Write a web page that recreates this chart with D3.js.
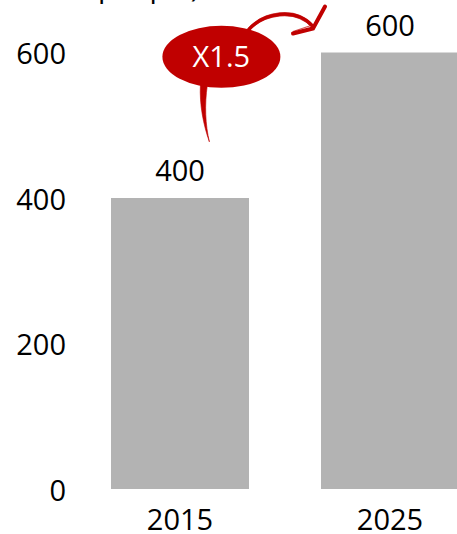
<!DOCTYPE html>
<html>
<head>
<meta charset="utf-8">
<script src="https://cdn.jsdelivr.net/npm/d3@7"></script>
<style>
  body { margin: 0; background: #fff; }
  text { font-family: "Open Sans", "Noto Sans", sans-serif; }
</style>
</head>
<body>
<script>
// chart values
const years = ["2015", "2025"];
const values = [400, 600];
const yTicks = [0, 200, 400, 600];
const growthLabel = "X1.5";
const titleText = "people)";

const width = 457, height = 534;
const fontSize = 29;
const barColor = "#b3b3b3", red = "#c00000";

const svg = d3.select("body").append("svg")
    .attr("width", width)
    .attr("height", height);

// scales
const x = d3.scaleBand(years, [75, 495])
    .paddingInner(0.343)
    .paddingOuter(0.1715);
const y = d3.scaleLinear([0, 600], [489, 52.5]);

// title, cut off at the top of the picture
svg.append("text")
    .attr("x", 98)
    .attr("y", -3)
    .attr("font-size", fontSize)
    .attr("fill", "#000")
    .text(titleText);

// bars
svg.selectAll(".bar")
    .data(values)
    .join("rect")
    .attr("class", "bar")
    .attr("x", (d, i) => x(years[i]))
    .attr("y", d => y(d))
    .attr("width", x.bandwidth())
    .attr("height", d => y(0) - y(d))
    .attr("fill", barColor);

// value labels
svg.selectAll(".value")
    .data(values)
    .join("text")
    .attr("class", "value")
    .attr("x", (d, i) => x(years[i]) + x.bandwidth() / 2)
    .attr("y", d => y(d) - 17)
    .attr("text-anchor", "middle")
    .attr("font-size", fontSize)
    .text(d => d);

// y axis, labels only
const yAxis = svg.append("g")
    .attr("transform", "translate(66,0)")
    .call(d3.axisLeft(y).tickValues(yTicks).tickSize(0).tickPadding(0));
yAxis.select(".domain").remove();
yAxis.selectAll("text")
    .attr("font-size", fontSize)
    .attr("font-family", null)
    .attr("fill", "#000")
    .attr("dy", "0.38em");

// x axis, labels only
const xAxis = svg.append("g")
    .attr("transform", `translate(0,${y(0)})`)
    .call(d3.axisBottom(x).tickSize(0).tickPadding(0));
xAxis.select(".domain").remove();
xAxis.selectAll("text")
    .attr("font-size", fontSize)
    .attr("font-family", null)
    .attr("fill", "#000")
    .attr("dy", null)
    .attr("y", 41);

// growth annotation
const cx = x(years[0]) + x.bandwidth() * 0.8;
const cy = y(594);
const ann = svg.append("g").attr("fill", red).attr("stroke", red);

// curved arrow from the ellipse to the second bar (brush-like strokes)
const arrowEnd = [x(years[1]) - 8, y(633)];
const arcPath = `M${cx + 27},${cy - 27} C${cx + 42},${cy - 44} ${cx + 74},${cy - 50} ${arrowEnd[0]},${arrowEnd[1] - 2}`;
[[0, 3.2, 1], [1.5, 1.2, 0.8], [-1.5, 1.2, 0.7]].forEach(([off, w, o]) => {
  ann.append("path")
      .attr("d", arcPath)
      .attr("transform", `translate(0,${off})`)
      .attr("fill", "none")
      .attr("stroke-width", w)
      .attr("stroke-opacity", o)
      .attr("stroke-linecap", "round");
});
// arrow head
ann.append("path")
    .attr("d", `M${arrowEnd[0] - 20},${arrowEnd[1] + 5} L${arrowEnd[0]},${arrowEnd[1]} L${arrowEnd[0] + 12},${arrowEnd[1] - 22}`)
    .attr("fill", "none")
    .attr("stroke-width", 4)
    .attr("stroke-linejoin", "miter")
    .attr("stroke-linecap", "round");
ann.append("path")
    .attr("d", `M${arrowEnd[0] - 20},${arrowEnd[1] + 3} L${arrowEnd[0] - 2},${arrowEnd[1] - 3}`)
    .attr("fill", "none")
    .attr("stroke-width", 1.2)
    .attr("stroke-opacity", 0.7);

// tail below the ellipse, tapered
const tx = cx - 18, ty = cy + 28;
ann.append("path")
    .attr("d", `M${tx - 3},${ty} L${tx + 4},${ty} C${tx + 1},${ty + 20} ${tx + 2},${ty + 40} ${tx + 6},${ty + 57} C${tx},${ty + 40} ${tx - 4},${ty + 20} ${tx - 3},${ty} Z`)
    .attr("stroke-width", 0.6);

ann.append("ellipse")
    .attr("cx", cx)
    .attr("cy", cy)
    .attr("rx", 59)
    .attr("ry", 31)
    .attr("stroke", "none");

svg.append("text")
    .attr("x", cx)
    .attr("y", cy)
    .attr("dy", "0.36em")
    .attr("text-anchor", "middle")
    .attr("font-size", fontSize)
    .attr("fill", "#fff")
    .text(growthLabel);
</script>
</body>
</html>
